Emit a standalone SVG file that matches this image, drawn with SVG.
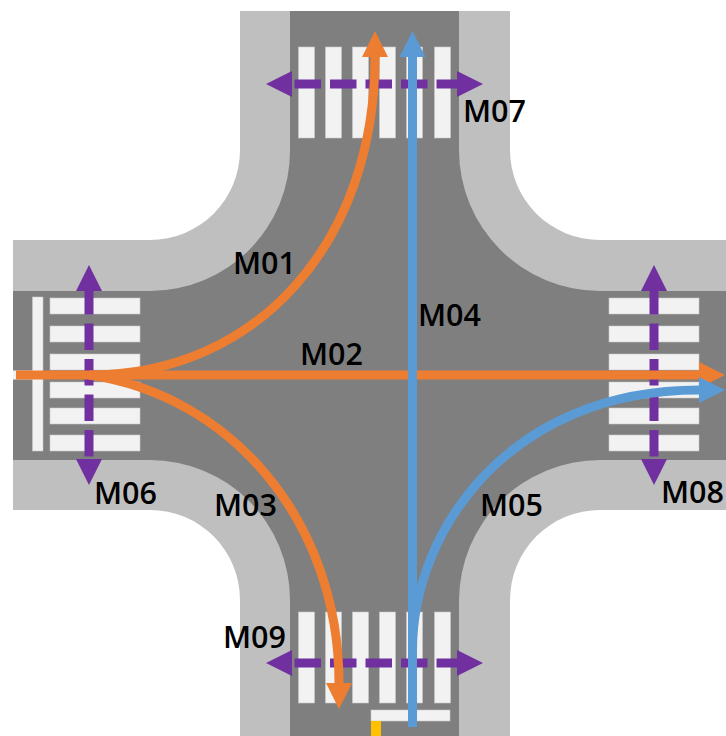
<svg xmlns="http://www.w3.org/2000/svg" width="726" height="736" viewBox="0 0 726 736">
<style>
.walk{fill:#bfbfbf}
.road{fill:#7f7f7f}
.zebra,.stop{fill:#f2f2f2;stroke:#c8c8c8;stroke-width:.6}
.ped{fill:none;stroke:#7030a0;stroke-width:9;stroke-dasharray:0 2.5 26.5 9 26.5 9 26.5 9 26.5 9 26.5 9;marker-start:url(#hp);marker-end:url(#hp)}
.or{fill:none;stroke:#ed7d31;stroke-width:9;marker-end:url(#ho)}
.bl{fill:none;stroke:#5b9bd5;stroke-width:9;marker-end:url(#hb)}
text{font-family:"Open Sans","Noto Sans",sans-serif;font-size:30.5px;font-weight:600;fill:#000}
</style>
<defs>
<marker id="hp" markerUnits="userSpaceOnUse" markerWidth="26" markerHeight="26" refX="0" refY="13" orient="auto-start-reverse"><path d="M0,0L26,13L0,26Z" fill="#7030a0"/></marker>
<marker id="ho" markerUnits="userSpaceOnUse" markerWidth="26" markerHeight="26" refX="0" refY="13" orient="auto"><path d="M0,0L26,13L0,26Z" fill="#ed7d31"/></marker>
<marker id="hb" markerUnits="userSpaceOnUse" markerWidth="26" markerHeight="26" refX="0" refY="13" orient="auto"><path d="M0,0L26,13L0,26Z" fill="#5b9bd5"/></marker>
<g id="zh"><rect x="0" y="0" width="90" height="16"/><rect x="0" y="28" width="90" height="16"/><rect x="0" y="56" width="90" height="16"/><rect x="0" y="84" width="90" height="16"/><rect x="0" y="110" width="90" height="16"/><rect x="0" y="137" width="90" height="16"/></g>
<g id="zv"><rect x="0" y="0" width="16" height="91"/><rect x="27" y="0" width="16" height="91"/><rect x="54" y="0" width="16" height="91"/><rect x="81" y="0" width="16" height="91"/><rect x="108" y="0" width="16" height="91"/><rect x="136" y="0" width="16" height="91"/></g>
</defs>
<rect width="726" height="736" fill="#fff"/>
<path class="walk" d="M240,11H510V150A90,90 0 0 0 600,240H726V510H600A90,90 0 0 0 510,600V736H240V600A90,90 0 0 0 150,510H13V240H150A90,90 0 0 0 240,150Z"/>
<path class="road" d="M290,11H459V150A141,141 0 0 0 600,291H726V460H600A141,141 0 0 0 459,600V736H290V600A140,140 0 0 0 150,460H13V291H150A140,140 0 0 0 290,150Z"/>
<g id="crossing-west" class="zebra"><use href="#zh" x="50" y="298"/></g>
<g id="crossing-east" class="zebra"><use href="#zh" x="609" y="298"/></g>
<g id="crossing-north" class="zebra"><use href="#zv" x="298.500" y="47"/></g>
<g id="crossing-south" class="zebra"><use href="#zv" x="298.500" y="612"/></g>
<rect class="stop" x="32.500" y="297" width="10.500" height="154"/>
<rect class="stop" x="371" y="710" width="79" height="11"/>
<rect x="371" y="721" width="10" height="15" fill="#ffc000"/>
<rect x="13" y="370.500" width="20" height="9" fill="#f2f2f2"/>
<g id="connectors">
<path id="M06-c" class="ped" d="M89,459V291"/>
<path id="M08-c" class="ped" d="M654,459V291"/>
<path id="M07-c" class="ped" d="M292,84H457"/>
<path id="M09-c" class="ped" d="M292,663H457"/>
<path id="M02-c" class="or" d="M16,375H699"/>
<path id="M01-c" class="or" d="M89,375C260,375 375,240 375,57"/>
<path id="M03-c" class="or" d="M89,375C230,395 339,520 339,683"/>
<path id="M04-c" class="bl" d="M412.500,727V57"/>
<path id="M05-c" class="bl" d="M412.500,727V650C412.500,530 510,390 699,390"/>
</g>
<g id="labels">
<text x="233" y="274">M01</text>
<text x="300" y="365">M02</text>
<text x="214" y="516">M03</text>
<text x="418" y="326">M04</text>
<text x="480" y="516">M05</text>
<text x="94" y="504">M06</text>
<text x="463" y="122">M07</text>
<text x="661" y="503">M08</text>
<text x="223" y="648">M09</text>
</g>
</svg>
